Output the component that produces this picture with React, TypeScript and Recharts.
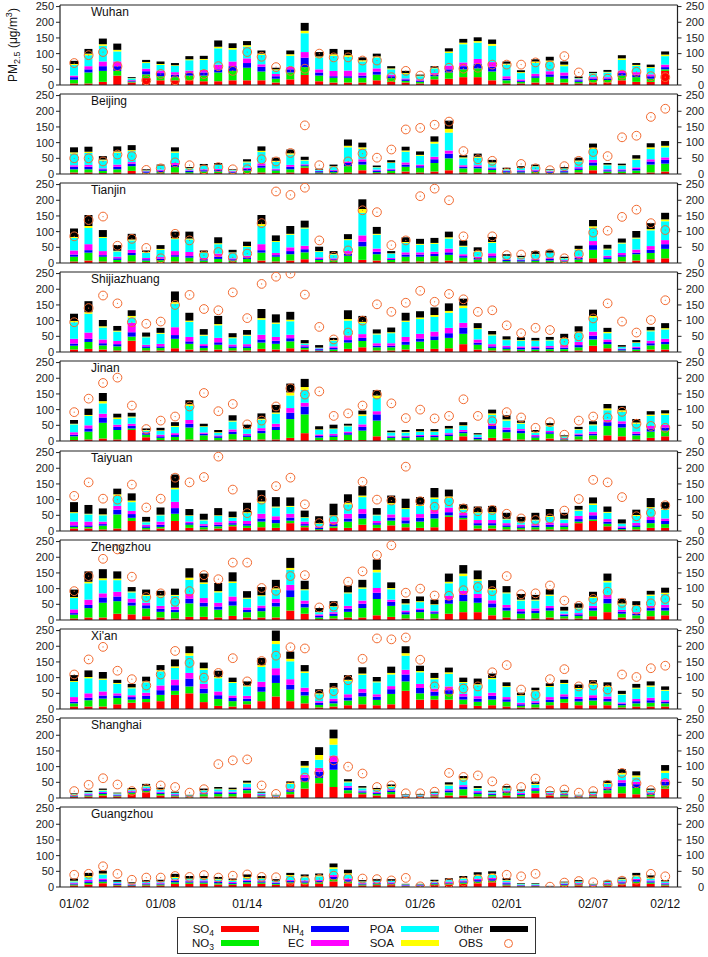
import React from "react";
import { ComposedChart, Bar, Line, XAxis, YAxis, ReferenceLine } from "recharts";

const dates = [
  "01/02", "01/03", "01/04", "01/05", "01/06", "01/07", "01/08", "01/09", "01/10", "01/11",
  "01/12", "01/13", "01/14", "01/15", "01/16", "01/17", "01/18", "01/19", "01/20", "01/21",
  "01/22", "01/23", "01/24", "01/25", "01/26", "01/27", "01/28", "01/29", "01/30", "01/31",
  "02/01", "02/02", "02/03", "02/04", "02/05", "02/06", "02/07", "02/08", "02/09", "02/10",
  "02/11", "02/12",
];
const dateTicks = ["01/02", "01/08", "01/14", "01/20", "01/26", "02/01", "02/07", "02/12"];
const yTicks = [0, 50, 100, 150, 200, 250];

// Wuhan
const wuhanSO4 = [5,5,10,30,8,22,15,15,15,12,12,15,15,15,8,18,32,12,8,8,8,15,10,8,5,18,20,25,25,15,5,5,8,8,8,5,8,8,15,10,10,45];
const wuhanNO3 = [12,35,35,15,3,12,13,10,15,18,28,30,40,28,12,22,25,18,15,15,15,18,12,5,5,10,20,25,28,28,10,5,15,18,12,5,8,8,15,15,10,5];
const wuhanNH4 = [8,10,15,15,3,10,10,8,8,10,10,15,15,15,8,10,30,10,5,5,7,10,6,5,4,5,10,10,15,15,5,3,5,8,10,5,5,5,8,8,8,7];
const wuhanEC = [5,10,15,15,2,8,8,8,8,8,15,15,15,8,7,8,18,10,17,18,10,10,5,3,4,5,12,12,15,15,8,5,8,10,10,3,4,4,8,8,6,8];
const wuhanPOA = [34,35,50,32,5,18,18,20,33,32,52,38,37,30,12,35,60,38,48,44,35,35,17,14,10,15,40,58,52,52,37,20,34,30,20,3,12,15,34,20,20,27];
const wuhanSOA = [3,5,5,5,1,3,3,2,3,3,5,5,5,4,3,5,8,3,5,5,4,3,3,3,2,2,5,5,5,6,3,3,5,4,5,1,1,2,5,3,3,5];
const wuhanOther = [10,15,18,20,3,7,8,7,10,10,20,15,13,10,5,12,25,14,17,17,9,9,7,7,3,5,10,12,12,14,7,6,7,12,10,5,4,6,10,6,8,10];
const wuhanOBS = [70,95,105,60,null,15,35,15,27,35,60,45,105,90,57,45,52,100,88,88,78,78,25,45,30,45,55,52,55,65,65,65,72,62,92,40,20,20,33,42,28,25];

// Beijing
const beijingSO4 = [5,5,3,5,10,2,2,5,2,3,3,2,3,5,3,5,20,2,2,5,12,3,3,8,5,8,12,5,5,5,2,2,2,2,2,5,12,3,3,3,5,8];
const beijingNO3 = [10,10,7,10,15,2,4,17,4,5,5,2,8,15,8,10,5,3,4,20,18,3,7,15,15,27,38,13,13,8,3,3,5,2,3,8,15,5,5,8,25,25];
const beijingNH4 = [8,8,5,8,8,4,5,7,4,4,5,3,5,7,3,8,3,4,5,10,10,5,4,7,5,12,15,5,5,5,4,4,4,3,4,5,10,4,4,5,10,12];
const beijingEC = [5,6,3,7,5,1,3,6,2,3,3,2,4,7,3,6,3,1,2,5,7,3,3,7,5,8,10,5,5,3,2,3,3,2,2,4,8,3,3,5,7,8];
const beijingPOA = [37,38,25,38,35,2,12,33,6,11,13,3,17,36,22,33,12,3,11,45,33,7,18,34,28,42,57,22,24,13,4,7,10,3,6,18,35,13,12,25,33,32];
const beijingSOA = [4,4,3,4,3,1,1,4,1,1,1,1,3,4,3,4,2,1,1,5,5,1,2,4,3,6,12,3,3,3,1,1,1,1,1,3,4,2,1,3,5,5];
const beijingOther = [16,16,11,16,16,3,3,13,3,5,5,2,7,14,10,12,10,3,5,20,15,5,7,12,11,17,26,7,10,8,4,5,5,2,4,9,13,5,5,11,13,15];
const beijingOBS = [50,50,40,62,57,13,18,37,28,15,22,15,15,47,40,67,155,28,10,40,65,52,78,142,147,157,167,73,47,42,5,32,18,12,25,42,70,57,117,122,182,208];

// Tianjin
const tianjinSO4 = [5,8,5,3,5,3,3,5,5,3,3,3,3,8,5,8,12,3,3,3,10,8,3,5,5,5,8,5,3,5,2,2,2,3,2,3,15,3,5,8,12,15];
const tianjinNO3 = [15,25,15,7,20,5,6,15,12,5,10,5,10,25,15,20,22,7,6,20,43,20,7,15,15,17,18,12,8,12,4,3,5,5,3,8,27,10,15,20,20,30];
const tianjinNH4 = [7,8,5,5,7,4,5,5,5,4,7,4,5,8,5,10,10,3,3,7,15,8,3,7,7,7,8,5,5,5,4,4,4,5,3,5,15,5,5,5,10,15];
const tianjinEC = [13,19,13,5,10,4,5,13,13,4,10,3,5,19,7,12,11,5,3,8,20,10,3,7,7,7,12,6,4,9,2,2,3,4,2,5,13,5,7,10,12,13];
const tianjinPOA = [40,52,42,17,30,17,23,38,40,16,30,18,28,58,35,40,55,18,12,35,72,44,14,30,24,25,32,24,16,33,10,7,14,15,5,21,42,20,30,35,50,60];
const tianjinSOA = [3,6,3,2,3,2,3,3,3,2,3,1,3,6,3,3,3,2,2,3,12,3,1,3,3,3,4,3,2,3,1,1,1,1,1,3,5,3,3,3,4,6];
const tianjinOther = [27,35,22,18,18,5,12,21,22,6,19,8,14,29,18,25,22,14,9,16,31,22,7,15,16,16,18,17,12,16,5,4,9,7,4,10,20,12,13,21,19,21];
const tianjinOBS = [85,137,148,55,77,48,15,93,72,25,35,18,30,127,228,217,240,72,20,40,168,162,57,72,213,237,200,85,27,85,25,27,25,30,15,28,97,103,147,170,127,105];

// Shijiazhuang
const sjzSO4 = [8,10,8,5,36,5,5,12,8,5,8,5,5,10,8,12,8,3,3,10,15,5,5,8,10,10,12,25,8,5,5,3,3,3,3,5,20,12,2,3,8,8];
const sjzNO3 = [12,22,13,13,13,8,8,30,18,8,15,8,8,20,18,22,5,2,5,20,20,10,10,15,23,28,33,33,15,8,5,5,5,6,6,10,20,13,3,5,13,17];
const sjzNH4 = [7,10,7,7,14,5,5,12,8,6,8,5,5,10,10,10,5,4,5,8,10,5,5,10,10,12,15,20,7,5,5,5,5,5,5,7,12,7,4,5,7,7];
const sjzEC = [15,20,12,10,30,5,8,25,14,6,14,6,7,15,12,11,4,2,5,15,12,8,8,15,15,15,17,15,10,7,5,5,5,5,8,10,13,8,2,4,8,10];
const sjzPOA = [53,60,38,30,17,24,32,75,48,27,40,20,27,48,42,43,5,2,18,47,35,28,32,48,47,47,48,47,33,28,18,18,17,18,20,30,45,20,5,12,30,30];
const sjzSOA = [4,5,4,3,5,2,3,5,4,3,4,3,3,5,4,5,1,1,2,5,4,3,3,4,5,6,6,8,3,3,2,2,2,2,2,3,5,4,1,2,3,4];
const sjzOther = [23,35,20,15,18,13,16,34,25,18,26,13,15,29,26,25,10,8,7,28,19,13,15,25,20,24,24,22,16,11,10,9,8,9,14,17,20,13,5,7,11,16];
const sjzOBS = [95,140,180,155,95,90,97,150,182,137,133,190,108,217,240,250,183,80,40,62,100,152,128,157,195,160,185,168,128,133,85,60,77,70,33,50,107,155,97,62,102,165];

// Jinan
const jinanSO4 = [3,5,8,5,35,12,3,3,5,3,2,5,3,5,5,10,25,3,3,3,3,15,2,2,2,2,3,15,2,10,8,5,3,8,2,5,5,18,15,5,10,15];
const jinanNO3 = [12,25,50,30,5,8,7,10,38,15,8,17,10,20,30,60,60,8,10,17,30,50,8,8,10,10,13,10,4,28,20,20,8,15,3,10,13,30,28,13,20,18];
const jinanNH4 = [5,10,17,10,8,5,5,6,12,5,5,8,5,8,10,20,25,5,5,5,12,20,4,4,4,4,5,5,4,10,8,8,4,5,3,5,5,12,12,5,10,10];
const jinanEC = [8,10,12,7,7,3,5,6,12,4,3,7,5,8,10,15,12,5,5,5,8,10,3,3,3,3,4,5,2,8,7,5,4,4,2,4,7,8,8,7,8,8];
const jinanPOA = [25,30,33,18,20,5,12,20,45,18,8,25,15,27,32,40,41,14,15,17,27,42,10,10,10,10,13,13,8,27,22,17,8,15,4,12,20,30,30,25,32,32];
const jinanSOA = [2,3,7,5,3,2,2,3,5,2,2,3,2,3,4,10,9,2,2,2,5,8,1,2,2,2,2,2,1,5,4,3,2,3,1,2,3,6,5,4,4,5];
const jinanOther = [12,20,26,12,12,5,8,12,13,8,7,17,12,17,24,28,26,10,12,6,12,17,5,6,7,7,8,10,4,12,13,7,6,7,3,7,10,14,14,11,11,10];
const jinanOBS = [92,135,185,202,113,38,65,78,110,153,95,118,53,65,110,168,148,158,80,88,113,148,120,73,100,72,80,133,80,63,92,75,42,60,20,65,78,75,93,55,48,42];

// Taiyuan
const taiyuanSO4 = [8,8,5,8,32,5,8,32,10,5,8,15,10,12,10,25,12,3,10,10,20,10,18,12,10,12,45,37,8,8,5,5,5,5,5,25,32,15,3,5,10,10];
const taiyuanNO3 = [5,5,12,45,10,5,5,23,10,7,7,5,7,18,15,8,5,3,5,20,20,10,15,12,20,28,5,5,10,10,8,5,7,8,8,5,5,8,3,8,15,12];
const taiyuanNH4 = [5,5,5,15,12,5,7,18,5,5,5,5,5,10,10,10,5,5,7,10,15,5,10,10,12,15,10,8,7,7,5,5,5,7,5,8,13,7,4,5,10,10];
const taiyuanEC = [12,12,8,12,10,5,10,20,5,5,8,7,10,15,12,12,8,4,8,15,15,7,10,10,12,12,15,8,10,10,7,5,5,7,7,10,10,8,5,8,10,8];
const taiyuanPOA = [27,23,20,32,28,8,20,40,18,12,20,10,25,35,28,22,12,8,18,30,38,18,32,26,26,35,30,10,22,22,12,8,12,18,12,17,23,20,8,22,28,28];
const taiyuanSOA = [3,2,3,5,5,2,2,5,2,2,2,2,3,4,3,3,2,2,2,5,5,2,4,3,4,5,5,3,3,3,2,2,2,3,2,3,5,3,1,3,3,3];
const taiyuanOther = [32,28,19,18,23,15,23,42,20,19,23,18,30,36,30,27,21,22,37,27,30,21,24,30,24,30,22,14,18,20,19,15,22,22,19,12,19,17,13,17,29,21];
const taiyuanOBS = [112,155,103,100,148,75,103,170,155,172,237,132,57,100,143,170,85,25,35,80,157,100,97,205,95,77,95,72,63,67,55,40,35,40,65,102,163,155,108,47,58,82];

// Zhengzhou
const zzSO4 = [5,8,8,20,18,12,8,5,10,10,8,13,8,8,8,30,20,3,5,8,8,15,10,5,5,5,20,25,25,15,8,5,5,8,5,5,12,25,8,5,12,15];
const zzNO3 = [12,30,47,40,28,25,18,20,43,33,25,33,17,20,35,43,20,5,8,18,30,52,35,13,20,15,32,35,30,25,22,15,17,22,7,8,18,28,12,10,18,15];
const zzNH4 = [5,10,17,15,10,10,10,8,15,12,10,14,7,10,12,22,12,5,7,10,14,20,13,7,7,5,13,20,15,13,10,8,8,8,5,5,8,15,7,5,8,10];
const zzEC = [12,17,13,15,12,8,9,9,15,15,12,15,8,8,12,17,10,5,5,9,10,15,7,5,5,3,12,13,13,10,8,7,7,7,3,4,7,12,5,5,7,8];
const zzPOA = [36,52,42,37,20,22,30,35,45,45,33,43,28,30,30,48,33,7,17,40,38,50,33,20,20,20,40,47,42,32,37,27,25,32,8,15,25,40,18,20,32,35];
const zzSOA = [3,5,6,5,3,3,3,3,7,5,4,5,3,3,4,6,3,1,2,3,4,8,4,3,3,2,5,8,5,4,3,3,3,4,2,2,4,5,3,2,4,4];
const zzOther = [24,33,29,23,14,17,15,20,30,28,26,29,21,26,27,32,27,12,16,22,24,33,18,14,15,15,26,27,28,28,20,18,15,17,12,14,16,23,15,13,12,16];
const zzOBS = [92,140,195,225,138,73,85,58,92,143,130,183,183,102,93,140,143,40,43,122,155,207,238,87,100,78,77,95,105,92,140,82,85,110,62,45,67,90,55,33,53,67];

// Xi'an
const xianSO4 = [8,8,8,15,20,22,25,45,50,22,10,8,15,25,40,25,18,5,8,12,15,12,15,58,30,30,30,15,10,12,8,5,5,12,20,12,12,12,5,8,8,8];
const xianNO3 = [10,20,25,20,10,10,20,13,22,28,22,17,10,30,43,37,25,8,10,15,25,17,33,30,20,12,18,15,13,18,15,5,10,10,12,12,15,12,7,10,12,10];
const xianNH4 = [5,8,10,8,8,10,15,18,25,15,12,10,8,15,25,15,12,7,7,10,12,10,15,22,17,13,12,10,10,12,8,5,5,8,8,8,8,8,5,7,8,5];
const xianEC = [15,14,13,7,6,10,15,18,18,15,12,8,9,17,22,18,13,5,8,10,12,8,10,15,13,10,12,8,8,10,7,5,5,8,7,7,9,8,4,7,8,5];
const xianPOA = [48,48,37,30,22,33,45,37,55,45,42,40,30,47,77,57,47,22,32,42,45,38,37,45,37,30,40,35,35,43,32,22,32,32,33,25,33,30,25,33,35,30];
const xianSOA = [3,4,4,3,3,3,4,5,8,5,4,3,3,6,10,8,5,3,3,4,4,3,5,8,4,4,5,3,3,4,3,2,3,3,3,3,4,3,2,3,4,3];
const xianOther = [19,21,21,10,11,15,16,22,22,18,20,14,13,23,33,23,20,13,15,15,20,14,20,22,17,16,15,14,18,14,12,8,8,9,10,11,11,12,10,12,13,11];
const xianOBS = [110,158,198,122,95,75,110,185,147,100,115,162,88,153,170,197,193,45,57,92,160,225,222,228,157,72,55,65,72,117,140,62,45,95,127,72,75,62,110,102,130,138];

// Shanghai
const shSO4 = [3,5,8,5,12,18,8,5,2,5,5,5,15,5,2,12,30,47,35,15,12,8,12,3,3,5,8,8,5,5,8,5,15,8,5,2,5,15,15,12,5,30];
const shNO3 = [2,3,5,2,5,5,5,3,2,7,8,8,10,3,2,8,22,17,55,10,5,5,7,2,2,3,10,20,8,5,8,5,8,3,4,2,3,10,22,20,5,10];
const shNH4 = [2,3,3,2,3,5,4,3,1,3,5,4,5,3,1,5,12,20,25,8,4,4,5,2,2,3,6,8,5,3,5,3,5,3,3,2,3,6,12,12,5,12];
const shEC = [2,3,3,2,3,3,3,2,1,3,3,3,4,2,1,5,10,12,20,5,3,3,4,1,1,2,4,5,4,2,3,3,4,2,2,1,2,4,8,8,3,8];
const shPOA = [3,4,5,3,3,6,6,3,2,6,7,6,12,3,2,15,23,26,35,12,7,6,8,2,2,3,12,18,8,4,7,6,10,3,5,1.5,3,10,18,14,6,20];
const shSOA = [1,1,2,1,2,2,2,1,0.5,1,2,2,3,1,0.5,3,6,15,20,3,2,2,2,0.5,1,1,3,4,2,1,2,1,3,1,1,0.5,1,3,5,6,2,7];
const shOther = [2,4,4,2,4,6,5,3,1.5,5,5,5,6,3,1.5,5,15,25,28,7,5,4,5,1.5,2,3,7,7,6,3,5,4,7,2,3,1,3,7,12,13,4,18];
const shOBS = [22,42,63,43,22,30,40,35,17,28,108,120,123,40,13,38,65,80,120,100,78,35,40,15,15,20,80,67,72,53,30,35,62,22,27,17,22,42,80,47,25,48];

// Guangzhou
const gzSO4 = [5,8,12,5,3,5,5,10,10,10,8,7,10,10,7,12,10,10,18,12,5,6,6,2,2,6,8,10,12,15,5,2,2,1,4,5,2,5,8,12,10,5];
const gzNO3 = [3,5,5,2,2,3,3,5,4,4,4,3,5,4,3,3,4,5,7,5,3,3,3,1,1,3,3,4,5,5,3,1,1,0.5,2,3,1,3,3,5,4,3];
const gzNH4 = [3,5,5,3,2,3,3,5,4,4,4,3,5,4,3,4,4,4,7,5,3,3,3,2,2,3,3,4,5,5,4,2,2,0.5,3,3,2,3,4,5,4,3];
const gzEC = [3,5,5,2,2,2,3,4,3,3,3,3,3,3,2,3,3,3,6,5,2,3,3,1,1,2,3,3,4,4,3,1,1,0.3,2,2,1,2,3,4,3,2];
const gzPOA = [4,8,13,4,2,3,3,5,4,5,5,4,6,5,4,13,10,12,20,13,4,4,4,2,2,4,5,6,10,10,5,3,3,0.5,3,4,2,3,6,8,6,4];
const gzSOA = [2,4,3,1,1,1,1,3,2,2,2,2,3,2,1,3,3,3,5,4,1,1,1,0.5,0.5,1,1,2,3,3,2,1,1,0.2,1,1,0.5,1,2,3,3,1];
const gzOther = [7,10,9,5,3,5,5,10,8,7,6,5,8,7,5,7,6,6,12,11,4,5,5,1.5,1.5,4,5,6,8,8,6,2,2,0.5,2,4,1.5,3,4,8,7,4];
const gzOBS = [39,42,66,42,23,30,30,35,32,38,30,36,40,32,31,20,21,26,36,28,27,25,21,29,2,5,13,18,25,29,39,34,42,1,14,19,15,8,20,23,42,34];

const species = [
  { key: "so4", color: "#ff0000" },
  { key: "no3", color: "#00ee00" },
  { key: "nh4", color: "#0000ff" },
  { key: "ec", color: "#ff00ff" },
  { key: "poa", color: "#00ffff" },
  { key: "soa", color: "#ffff00" },
  { key: "other", color: "#000000" },
];

const cities = [
  { name: "Wuhan", so4: wuhanSO4, no3: wuhanNO3, nh4: wuhanNH4, ec: wuhanEC, poa: wuhanPOA, soa: wuhanSOA, other: wuhanOther, obs: wuhanOBS },
  { name: "Beijing", so4: beijingSO4, no3: beijingNO3, nh4: beijingNH4, ec: beijingEC, poa: beijingPOA, soa: beijingSOA, other: beijingOther, obs: beijingOBS },
  { name: "Tianjin", so4: tianjinSO4, no3: tianjinNO3, nh4: tianjinNH4, ec: tianjinEC, poa: tianjinPOA, soa: tianjinSOA, other: tianjinOther, obs: tianjinOBS },
  { name: "Shijiazhuang", so4: sjzSO4, no3: sjzNO3, nh4: sjzNH4, ec: sjzEC, poa: sjzPOA, soa: sjzSOA, other: sjzOther, obs: sjzOBS },
  { name: "Jinan", so4: jinanSO4, no3: jinanNO3, nh4: jinanNH4, ec: jinanEC, poa: jinanPOA, soa: jinanSOA, other: jinanOther, obs: jinanOBS },
  { name: "Taiyuan", so4: taiyuanSO4, no3: taiyuanNO3, nh4: taiyuanNH4, ec: taiyuanEC, poa: taiyuanPOA, soa: taiyuanSOA, other: taiyuanOther, obs: taiyuanOBS },
  { name: "Zhengzhou", so4: zzSO4, no3: zzNO3, nh4: zzNH4, ec: zzEC, poa: zzPOA, soa: zzSOA, other: zzOther, obs: zzOBS },
  { name: "Xi'an", so4: xianSO4, no3: xianNO3, nh4: xianNH4, ec: xianEC, poa: xianPOA, soa: xianSOA, other: xianOther, obs: xianOBS },
  { name: "Shanghai", so4: shSO4, no3: shNO3, nh4: shNH4, ec: shEC, poa: shPOA, soa: shSOA, other: shOther, obs: shOBS },
  { name: "Guangzhou", so4: gzSO4, no3: gzNO3, nh4: gzNH4, ec: gzEC, poa: gzPOA, soa: gzSOA, other: gzOther, obs: gzOBS },
];

const YMAX = 255;
const STEP = 89.1;
const OBS_COLOR = "#f26a30";
const FONT = "'Liberation Sans', Arial, Helvetica, sans-serif";

function rowsFor(city: any) {
  return dates.map((d, i) => ({
    date: d,
    so4: city.so4[i],
    no3: city.no3[i],
    nh4: city.nh4[i],
    ec: city.ec[i],
    poa: city.poa[i],
    soa: city.soa[i],
    other: city.other[i],
    obs: city.obs[i],
  }));
}

const renderObs = (p: any) => {
  const { cx, cy, value, index } = p;
  if (value == null || cx == null || cy == null) return <g key={"o" + index} />;
  return (
    <g key={"o" + index}>
      <circle cx={cx} cy={cy} r={4.4} fill="none" stroke={OBS_COLOR} strokeWidth={1} />
      <circle cx={cx} cy={cy} r={0.6} fill={OBS_COLOR} />
    </g>
  );
};

// right-hand tick labels are right-aligned against the page edge
const RightTick = (p: any) => (
  <text x={704} y={p.y} dy="0.35em" textAnchor="end" fontSize={11} fill="#222" fontFamily={FONT}>
    {p.payload.value}
  </text>
);

function Panel({ city, index, last }: { city: any; index: number; last: boolean }) {
  // each chart overlaps its neighbours a little so the 0 and 250 labels are not clipped
  const h = last ? 113 : 98;
  const tickStyle = { fontSize: 11, fill: "#222", fontFamily: FONT };
  return (
    <div style={{ position: "absolute", left: 0, top: Math.round(index * STEP) - 3, width: 708, height: h }}>
      <ComposedChart
        width={708}
        height={h}
        data={rowsFor(city)}
        margin={{ top: 8, right: 0, bottom: last ? 3 : 9, left: 0 }}
        barCategoryGap="21%"
      >
        <XAxis
          dataKey="date"
          padding={{ left: 7, right: 5 }}
          ticks={dateTicks}
          interval={0}
          tickLine={false}
          axisLine={{ stroke: "#222", strokeWidth: 1.2 }}
          tick={last ? { fontSize: 12, fill: "#111", fontFamily: FONT } : false}
          tickMargin={6}
          height={last ? 22 : 1}
        />
        <YAxis
          yAxisId="l"
          domain={[0, YMAX]}
          ticks={yTicks}
          interval={0}
          allowDataOverflow
          width={60}
          tick={tickStyle}
          tickSize={4}
          tickMargin={2}
          axisLine={{ stroke: "#222", strokeWidth: 1.2 }}
          tickLine={{ stroke: "#222" }}
        />
        <YAxis
          yAxisId="r"
          orientation="right"
          domain={[0, YMAX]}
          ticks={yTicks}
          interval={0}
          allowDataOverflow
          width={30.5}
          tick={<RightTick />}
          tickSize={4}
          axisLine={{ stroke: "#222", strokeWidth: 1.2 }}
          tickLine={{ stroke: "#222" }}
        />
        {species.map((s) => (
          <Bar
            key={s.key}
            yAxisId="l"
            dataKey={s.key}
            stackId="a"
            fill={s.color}
            isAnimationActive={false}
          />
        ))}
        <Line
          yAxisId="l"
          dataKey="obs"
          stroke="none"
          dot={renderObs}
          activeDot={false}
          legendType="none"
          isAnimationActive={false}
        />
        <ReferenceLine yAxisId="l" y={YMAX} stroke="#222" strokeWidth={1.2} />
      </ComposedChart>
      <div style={{ position: "absolute", left: 91, top: 8, fontSize: 12, fontFamily: FONT, color: "#111" }}>
        {city.name}
      </div>
    </div>
  );
}

const subStyle = { fontSize: 8.5, lineHeight: 0, verticalAlign: "-3px" } as const;

const legendItems = [
  { label: <>SO<span style={subStyle}>4</span></>, color: "#ff0000", x: 213, row: 0 },
  { label: <>NO<span style={subStyle}>3</span></>, color: "#00ee00", x: 213, row: 1 },
  { label: <>NH<span style={subStyle}>4</span></>, color: "#0000ff", x: 303, row: 0 },
  { label: <>EC</>, color: "#ff00ff", x: 303, row: 1 },
  { label: <>POA</>, color: "#00ffff", x: 393, row: 0 },
  { label: <>SOA</>, color: "#ffff00", x: 393, row: 1 },
  { label: <>Other</>, color: "#000000", x: 482, row: 0 },
  { label: <>OBS</>, color: null, x: 482, row: 1 },
];

function LegendBox() {
  return (
    <div
      style={{
        position: "absolute",
        left: 177,
        top: 917,
        width: 359,
        height: 37,
        border: "1px solid #333",
        boxSizing: "border-box",
        fontFamily: FONT,
        fontSize: 11.5,
        color: "#111",
      }}
    >
      {legendItems.map((it, i) => {
        const cy = it.row === 0 ? 11 : 24.5;
        return (
          <React.Fragment key={i}>
            <div
              style={{
                position: "absolute",
                right: 534 - it.x,
                top: cy - 6,
                lineHeight: "12px",
                height: 12,
                whiteSpace: "nowrap",
                textAlign: "right",
              }}
            >
              {it.label}
            </div>
            {it.color ? (
              <div
                style={{
                  position: "absolute",
                  left: it.x - 178 + 8,
                  top: cy - 3,
                  width: 38,
                  height: 6,
                  background: it.color,
                }}
              />
            ) : (
              <div
                style={{
                  position: "absolute",
                  left: it.x - 178 + 22,
                  top: cy - 4,
                  width: 7,
                  height: 7,
                  borderRadius: "50%",
                  border: `1px solid ${OBS_COLOR}`,
                }}
              />
            )}
          </React.Fragment>
        );
      })}
    </div>
  );
}

export default function App() {
  return (
    <div style={{ position: "absolute", left: 0, top: 0, width: 708, height: 957, background: "#fff", fontFamily: FONT }}>
      {cities.map((c, i) => (
        <Panel key={c.name} city={c} index={i} last={i === cities.length - 1} />
      ))}
      <div
        style={{
          position: "absolute",
          left: 13,
          top: 45,
          transform: "translate(-50%, -50%) rotate(-90deg)",
          whiteSpace: "nowrap",
          fontSize: 12,
          color: "#111",
        }}
      >
        PM<span style={{ fontSize: 9, verticalAlign: "-3px" }}>2.5</span> (μg/m
        <span style={{ fontSize: 9, verticalAlign: "5px" }}>3</span>)
      </div>
      <LegendBox />
    </div>
  );
}
